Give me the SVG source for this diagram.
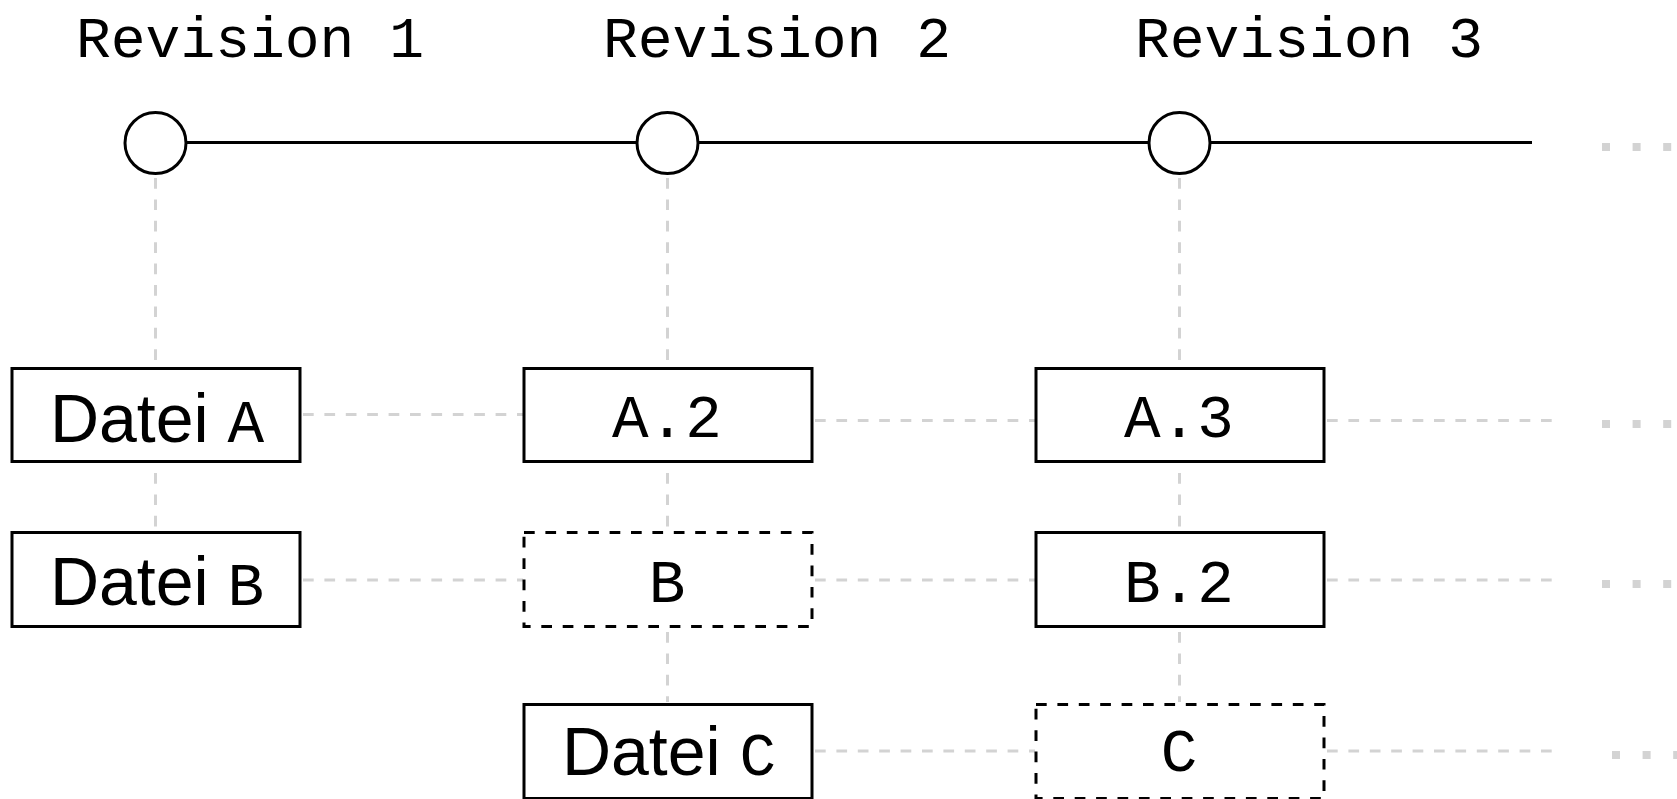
<svg xmlns="http://www.w3.org/2000/svg" width="1677" height="799" viewBox="0 0 1677 799">
<style>
.title{font-family:"Liberation Mono",monospace;font-size:58px;fill:#000;text-anchor:middle}
.lbl{font-family:"Liberation Sans",Arial,sans-serif;font-size:68px;fill:#000;text-anchor:middle}
.mono{font-family:"Liberation Mono",monospace;font-size:61px}
.box{fill:#fff;stroke:#000;stroke-width:3}
.dbox{fill:#fff;stroke:#000;stroke-width:3;stroke-dasharray:10.7 10.7}
.rev{fill:#fff;stroke:#000;stroke-width:3}
.conn{stroke:#d3d3d3;stroke-width:3;stroke-dasharray:10.7 10.7;fill:none}
.dots{stroke:#d3d3d3;stroke-width:8;stroke-dasharray:8 22.6;fill:none}
.timeline{stroke:#000;stroke-width:3;fill:none}
</style>
<rect width="1677" height="799" fill="#fff"/>
<g id="timeline">
<line class="timeline" x1="155" y1="142.5" x2="1532" y2="142.5"/>
<line class="dots" x1="1602" y1="147" x2="1677" y2="147"/>
</g>
<g id="connectors">
<line class="conn" x1="155.5" y1="178" x2="155.5" y2="366"/>
<line class="conn" x1="155.5" y1="473" x2="155.5" y2="531"/>
<line class="conn" x1="667.5" y1="178" x2="667.5" y2="366"/>
<line class="conn" x1="667.5" y1="473" x2="667.5" y2="531"/>
<line class="conn" x1="667.5" y1="632" x2="667.5" y2="702"/>
<line class="conn" x1="1179.5" y1="178" x2="1179.5" y2="366"/>
<line class="conn" x1="1179.5" y1="473" x2="1179.5" y2="531"/>
<line class="conn" x1="1179.5" y1="632" x2="1179.5" y2="702"/>
<line class="conn" x1="303" y1="414.5" x2="523" y2="414.5"/>
<line class="conn" x1="815" y1="420.5" x2="1035" y2="420.5"/>
<line class="conn" x1="1327" y1="420.5" x2="1552" y2="420.5"/>
<line class="conn" x1="303" y1="580" x2="523" y2="580"/>
<line class="conn" x1="815" y1="580" x2="1035" y2="580"/>
<line class="conn" x1="1327" y1="580" x2="1552" y2="580"/>
<line class="conn" x1="815" y1="751" x2="1035" y2="751"/>
<line class="conn" x1="1327" y1="751" x2="1552" y2="751"/>
<line class="dots" x1="1602" y1="424" x2="1677" y2="424"/>
<line class="dots" x1="1602" y1="584" x2="1677" y2="584"/>
<line class="dots" x1="1612" y1="755" x2="1677" y2="755"/>
</g>
<g id="rev1">
<text class="title" x="250" y="57">Revision 1</text>
<circle class="rev" cx="155.5" cy="143" r="30.5"/>
</g>
<g id="rev2">
<text class="title" x="777" y="57">Revision 2</text>
<circle class="rev" cx="667.5" cy="143" r="30.5"/>
</g>
<g id="rev3">
<text class="title" x="1309" y="57">Revision 3</text>
<circle class="rev" cx="1179.5" cy="143" r="30.5"/>
</g>
<g id="dateiA">
<rect class="box" x="12" y="368.5" width="288" height="93"/>
<text class="lbl" x="157" y="442">Datei <tspan class="mono">A</tspan></text>
</g>
<g id="A2">
<rect class="box" x="524" y="368.5" width="288" height="93"/>
<text class="lbl mono" x="667" y="437">A.2</text>
</g>
<g id="A3">
<rect class="box" x="1036" y="368.5" width="288" height="93"/>
<text class="lbl mono" x="1179" y="437">A.3</text>
</g>
<g id="dateiB">
<rect class="box" x="12" y="532.5" width="288" height="94"/>
<text class="lbl" x="157" y="605">Datei <tspan class="mono">B</tspan></text>
</g>
<g id="B">
<rect class="dbox" x="524" y="532.5" width="288" height="94"/>
<text class="lbl mono" x="667" y="602">B</text>
</g>
<g id="B2">
<rect class="box" x="1036" y="532.5" width="288" height="94"/>
<text class="lbl mono" x="1179" y="602">B.2</text>
</g>
<g id="dateiC">
<rect class="box" x="524" y="704.5" width="288" height="94"/>
<text class="lbl" x="669" y="775">Datei <tspan class="mono">C</tspan></text>
</g>
<g id="C">
<rect class="dbox" x="1036" y="704.5" width="288" height="94"/>
<text class="lbl mono" x="1179" y="771">C</text>
</g>
</svg>
